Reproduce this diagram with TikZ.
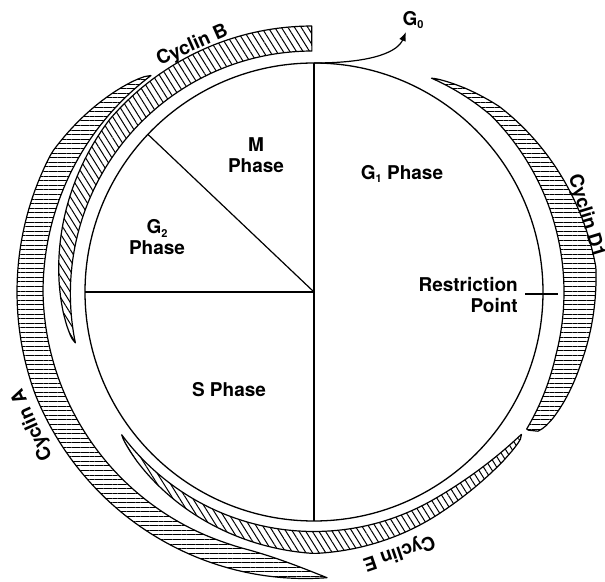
\documentclass[tikz,border=0pt]{standalone}
\usepackage{fontspec}
\setmainfont{TeX Gyre Heros}
\usetikzlibrary{patterns.meta,arrows.meta,calc}
\newcommand\lowsub[1]{\raisebox{-0.35ex}{\fontsize{11}{11}\selectfont #1}}
\begin{document}
\begin{tikzpicture}[x=1pt,y=1pt,
  declare function={
    rBi(\x)=241+3*((\x)-90.5)/101.5;
    rBo(\x)=rBi(\x)+25*min(1,max((192-(\x))/52,0.0001)^0.6);
    rAi(\x)=271-5*min(1,max(0,((\x)-180)/70))+20*max(0.0001,((\x)-255)/17.6)^2;
    rAo(\x)=271+26*min(1,max(0.0001,((\x)-127)/25)^0.7)-11*max(0,((\x)-200)/72.6);
    rDi(\x)=250-6*max(0,((\x)-45)/16.2)+3*max(0,(-(\x)-15)/17.8);
    rDo(\x)=rDi(\x)+(((\x)>=5) ? 33*max(0.0001,(61.2-(\x))/56.2)^0.8 : 33*max(0.0001,((\x)+32.8)/37.8)^0.3);
    rEi(\x)=239.5+12*max(0.0001,((\x)-300)/25.5)^2;
    rEo(\x)=rEi(\x)+(((\x)<=270) ? 22*max(0.0001,((\x)-216.6)/53.4)^0.7 : 22*max(0.0001,(325.5-(\x))/55.5)^0.5);
  },
  lbl/.style={font=\fontsize{19}{20.5}\selectfont\bfseries, inner sep=0pt, align=center},
  band/.style={draw=black, line width=1.2pt, line join=round},
  hatchH/.style={pattern={Lines[angle=0,distance=4.6pt,line width=1pt]}},
  hatchD/.style={pattern={Lines[angle=-58,distance=5.6pt,line width=1pt]}},
  phaseline/.style={line width=1.2pt},
]
\useasboundingbox (0,0) rectangle (605,581);
\coordinate (C) at (314,289);

% Cyclin A
\draw[band,hatchH] plot[domain=127:272.6,samples=120,variable=\t] ({314+rAo(\t)*cos(\t)},{289+rAo(\t)*sin(\t)})
  -- plot[domain=272.6:127,samples=120,variable=\t] ({314+rAi(\t)*cos(\t)},{289+rAi(\t)*sin(\t)}) -- cycle;
% Cyclin B
\draw[band,hatchD] plot[domain=90.5:192,samples=100,variable=\t] ({314+rBo(\t)*cos(\t)},{289+rBo(\t)*sin(\t)})
  -- plot[domain=192:90.5,samples=100,variable=\t] ({314+rBi(\t)*cos(\t)},{289+rBi(\t)*sin(\t)}) -- cycle;
% Cyclin D1
\draw[band,hatchH] plot[domain=61.2:-32.8,samples=100,variable=\t] ({314+rDo(\t)*cos(\t)},{289+rDo(\t)*sin(\t)})
  -- plot[domain=-32.8:61.2,samples=100,variable=\t] ({314+rDi(\t)*cos(\t)},{289+rDi(\t)*sin(\t)}) -- cycle;
% Cyclin E
\draw[band,hatchD] plot[domain=216.6:325.5,samples=110,variable=\t] ({314+rEo(\t)*cos(\t)},{289+rEo(\t)*sin(\t)})
  -- plot[domain=325.5:216.6,samples=110,variable=\t] ({314+rEi(\t)*cos(\t)},{289+rEi(\t)*sin(\t)}) -- cycle;

% cell cycle circle
\draw[line width=1.3pt] (C) circle[radius=229];
\coordinate (top) at ($(C)+(90:229)$);
\coordinate (bot) at ($(C)+(270:229)$);
\coordinate (lft) at ($(C)+(180:229)$);
\coordinate (dia) at ($(C)+(136.5:229)$);
\draw[phaseline] (top) -- (bot);
\draw[phaseline] (C) -- (lft);
\draw[phaseline] (C) -- (dia);

% phase labels
\node[lbl] (m) at (256,426) {M\\Phase};
\node[lbl] (g2) at (157,344) {G\lowsub{2}\\Phase};
\node[lbl] (g1) at (402,407) {G\lowsub{1} Phase};
\node[lbl] (s) at (229,191) {S Phase};
\node[lbl,anchor=east,align=right] (rp) at (518,286) {Restriction\\Point};
\coordinate (rpa) at (525,287);
\coordinate (rpb) at (558,287);
\draw[line width=1.1pt] (rpa) -- (rpb);

% G0 exit
\node[lbl] (g0) at (413,561) {G\lowsub{0}};
\coordinate (g0tip) at (406,549);
\draw[line width=1.2pt,-{Latex[length=9pt,width=7pt]}] (top) .. controls (375,518) and (398,530) .. (g0tip);

% cyclin labels
\node[lbl,rotate=24] (cb) at (192.5,535) {Cyclin B};
\node[lbl,rotate=-73] (cd) at (586,365) {Cyclin D1};
\node[lbl,rotate=199] (ce) at (399,29) {Cyclin E};
\node[lbl,rotate=114] (ca) at (32.5,156) {Cyclin A};
\end{tikzpicture}
\end{document}
